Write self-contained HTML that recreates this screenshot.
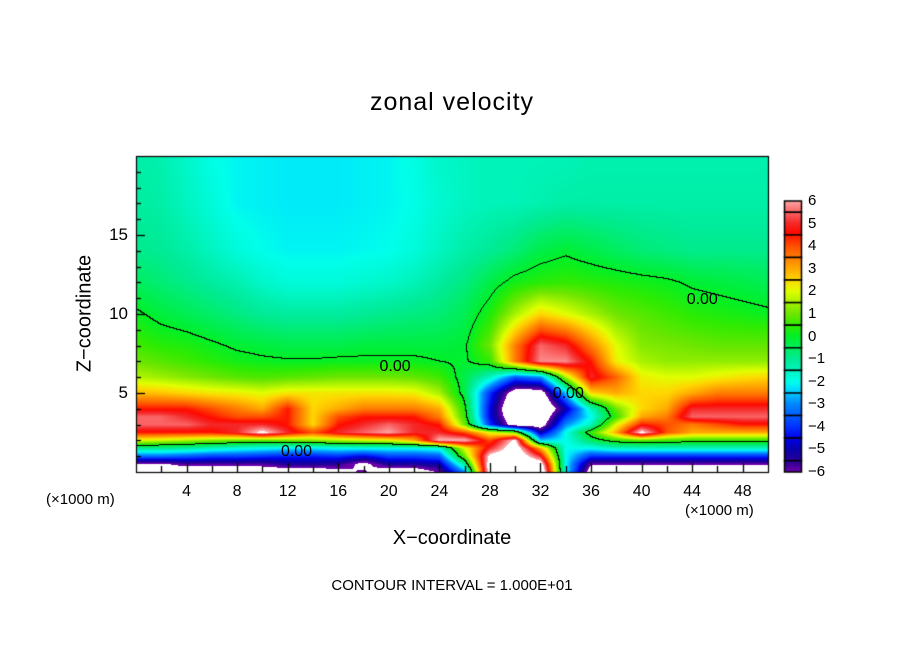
<!DOCTYPE html>
<html><head><meta charset="utf-8"><style>
body{margin:0;background:#fff;width:904px;height:654px;overflow:hidden;font-family:"Liberation Sans",sans-serif}
.t{position:absolute;color:#000;white-space:nowrap}
</style></head><body>
<div style="position:relative;width:904px;height:654px">
<div class="t" style="left:0;width:904px;text-align:center;top:88px;font-size:25px;letter-spacing:1px">zonal velocity</div>
<canvas id="cv" width="904" height="654" style="position:absolute;left:0;top:0"></canvas>
<div class="t" style="left:-5px;top:302px;width:180px;text-align:center;font-size:20px;transform:rotate(-90deg)">Z−coordinate</div>
<div class="t" style="left:0;width:904px;text-align:center;top:527px;font-size:20px">X−coordinate</div>
<div class="t" style="left:46px;top:491px;font-size:15px">(×1000 m)</div>
<div class="t" style="left:685px;top:502px;font-size:15px">(×1000 m)</div>
<div class="t" style="left:0;width:904px;text-align:center;top:577px;font-size:15px">CONTOUR INTERVAL = 1.000E+01</div>
<div id="lab"></div>
</div>
<script>
const xs=[0,2,4,6,8,10,12,14,16,18,20,22,24,26,28,30,32,34,36,38,40,42,44,46,48,50];
const zs=[0,0.5,1,1.5,2,2.5,3,3.5,4,5,6,7,8,10,12,14,17,20];
const u_z0=[-7,-7,-7,-7,-7,-7,-7,-7,-6.5,-6,-7,-7,-6,-3,7,8,8,-2,-7,-7,-7,-7,-7,-7,-7,-7];
const u_z05=[-6.3,-6.3,-5.8,-5.8,-5.8,-5.8,-5.3,-5.3,-5.5,-6.5,-5.3,-5.3,-5,-1,7,8,7,-2,-6,-6,-6,-6,-6,-6,-6,-6];
const u_z1=[-3.3,-3.3,-3.5,-3.8,-3.8,-4,-4.2,-4.2,-4,-4.5,-3.8,-3.8,-3.5,1,6.5,7.5,5,-2,-4,-4,-4,-4,-4,-4,-4,-4];
const u_z15=[-1,-1,-1.2,-1.5,-1.8,-2,-2.2,-2.2,-2,-2,-2,-2,-1.8,2,5,7,3,-2,-2,-1.5,-1.5,-1.5,-1.5,-1.5,-1.5,-1.5];
const u_z2=[2,1.8,1.5,1.2,1,0.8,1,1.2,1.5,1.8,2,3,6.2,6.2,4,6.5,-2.5,-2,-0.5,0.5,0.8,0.6,0.5,0.5,0.5,0.5];
const u_z25=[4.5,4.5,4.5,4.5,5,6.5,5,4,5,5.5,6,5,5,4,2,1,-5,-2,0.5,3,6.5,4,3,3,3,3];
const u_z3=[5.5,5.5,5.5,5,5,5,4.5,2.5,4.5,5,5.5,5,4.5,1,-4,-7,-7,-3,-1.5,2,4.5,4,3.5,4,4.5,4.5];
const u_z35=[5.5,5.5,5,4.5,4,4,4.5,2.5,4,4.5,4.5,4.5,3.5,0.5,-4.5,-7.5,-7.5,-4,-2,0.5,3,3.5,5.5,5.5,5.5,5.5];
const u_z4=[4.5,4.5,4.5,4,3.5,3,4.5,2.5,3,3.5,3.5,3.5,3,0.3,-4.5,-8,-8,-5,-1.5,1,2.5,3,5,5,5,5];
const u_z5=[2.8,2.7,2.5,2.3,2.2,2,2.3,2.3,2.3,2.3,2.3,2.2,1.5,-0.3,-4,-7,-7,-2.5,2.5,3,2.5,2.5,3,3.5,3.5,3.5];
const u_z6=[1.6,1.4,1.2,1.0,0.8,0.7,0.8,0.9,1.0,1.0,1.0,0.9,0.6,-0.3,-1.5,-3.5,-3,1.5,5,3.8,2.2,2,2,2.2,2.4,2.5];
const u_z7=[1.0,0.8,0.6,0.4,0.2,0.1,0.05,0.05,0.1,0.1,0.1,0.1,0,-0.1,0.5,3.5,5.8,5.8,4.5,2.2,1.5,1.3,1.3,1.3,1.3,1.3];
const u_z8=[0.6,0.4,0.3,0.1,-0.1,-0.2,-0.3,-0.3,-0.3,-0.2,-0.2,-0.2,-0.2,-0.1,1,3.5,5.5,5,3.5,2,1.2,1.1,1,0.9,0.9,0.9];
const u_z10=[0.1,-0.2,-0.4,-0.6,-0.8,-1.0,-1.1,-1.1,-1.1,-1.0,-0.9,-0.8,-0.7,-0.4,0.3,1.5,2.5,2,1.5,1.0,0.8,0.6,0.4,0.3,0.2,0.1];
const u_z12=[-0.5,-0.7,-0.9,-1.1,-1.3,-1.6,-1.8,-1.8,-1.8,-1.7,-1.6,-1.4,-1.1,-0.8,-0.3,0.2,0.4,0.5,0.4,0.3,0.2,0.1,-0.1,-0.2,-0.3,-0.4];
const u_z14=[-0.9,-1.0,-1.2,-1.5,-1.8,-2.0,-2.1,-2.1,-2.1,-2.05,-2.0,-1.8,-1.5,-1.2,-1.0,-0.7,-0.3,-0.1,-0.3,-0.5,-0.7,-0.8,-0.9,-0.9,-0.9,-0.9];
const u_z17=[-1.1,-1.2,-1.5,-1.8,-2.1,-2.15,-2.2,-2.2,-2.2,-2.15,-2.1,-1.95,-1.7,-1.5,-1.4,-1.4,-1.3,-1.2,-1.2,-1.2,-1.2,-1.2,-1.2,-1.2,-1.2,-1.2];
const u_z20=[-1.2,-1.3,-1.6,-1.95,-2.1,-2.15,-2.2,-2.2,-2.2,-2.15,-2.1,-1.9,-1.6,-1.5,-1.4,-1.4,-1.4,-1.4,-1.3,-1.3,-1.3,-1.3,-1.3,-1.3,-1.3,-1.3];
const rows=[u_z0,u_z05,u_z1,u_z15,u_z2,u_z25,u_z3,u_z35,u_z4,u_z5,u_z6,u_z7,u_z8,u_z10,u_z12,u_z14,u_z17,u_z20];
const xTicks=[4,8,12,16,20,24,28,32,36,40,44,48];
const zTicks=[5,10,15];
const cbLevels=[6,5,4,3,2,1,0,-1,-2,-3,-4,-5,-6];
const contourLabels=[[12.7,1.2],[20.5,6.6],[34.2,4.9],[44.8,10.8]];

const L=136,R=768,T=156,B=472;
const sx=x=>L+(x/50)*(R-L), sz=z=>B-(z/20)*(B-T);
const stops=[[-6,110,0,170],[-5.5,40,0,150],[-5,10,0,170],[-4.5,0,0,235],[-4,0,50,255],[-3,0,135,255],[-2.3,0,225,255],[-2,0,255,235],[-1,0,235,150],[0,0,240,40],[0.5,50,235,0],[1,110,230,0],[2,225,255,0],[2.5,255,215,0],[3,255,170,0],[4,255,80,0],[4.6,255,10,0],[5,245,40,40],[5.5,250,100,100],[6,255,165,165]];
function col(v){if(v>6.15||v<-6.15)return[255,255,255];if(v<=-6)return stops[0].slice(1);if(v>=6)return stops[stops.length-1].slice(1);
 for(let i=0;i<stops.length-1;i++){const a=stops[i],b=stops[i+1];if(v>=a[0]&&v<=b[0]){const t=(v-a[0])/(b[0]-a[0]);return[a[1]+t*(b[1]-a[1]),a[2]+t*(b[2]-a[2]),a[3]+t*(b[3]-a[3])];}}return[255,255,255];}
function idx(arr,v){for(let i=0;i<arr.length-1;i++)if(v<=arr[i+1])return i;return arr.length-2;}
function field(x,z){const i=idx(xs,x),j=idx(zs,z);const tx=(x-xs[i])/(xs[i+1]-xs[i]),tz=(z-zs[j])/(zs[j+1]-zs[j]);
 const a=rows[j][i],b=rows[j][i+1],c=rows[j+1][i],d=rows[j+1][i+1];return (a*(1-tx)+b*tx)*(1-tz)+(c*(1-tx)+d*tx)*tz;}
const cv=document.getElementById('cv'),ctx=cv.getContext('2d');
const W=R-L,H=B-T;const img=ctx.createImageData(W,H);const F=[];
for(let py=0;py<H;py++){F[py]=[];for(let px=0;px<W;px++){const x=(px+0.5)/W*50,z=(H-py-0.5)/H*20;F[py][px]=field(x,z);}}
for(let py=0;py<H;py++)for(let px=0;px<W;px++){let c=col(F[py][px]);const v=F[py][px];
 const s=Math.sign(v);let line=false;
 if(px+1<W&&Math.sign(F[py][px+1])!==s)line=true;if(py+1<H&&Math.sign(F[py+1][px])!==s)line=true;
 if(line)c=[0,0,0];const k=(py*W+px)*4;img.data[k]=c[0];img.data[k+1]=c[1];img.data[k+2]=c[2];img.data[k+3]=255;}
ctx.putImageData(img,L,T);
ctx.strokeStyle='#000';ctx.lineWidth=1.2;ctx.strokeRect(L+0.5,T+0.5,W,H);
ctx.lineWidth=1.3;
for(let x=2;x<50;x+=2){const p=Math.round(sx(x))+0.5;const len=x%4===0?9:6;ctx.beginPath();ctx.moveTo(p,B);ctx.lineTo(p,B-len);ctx.stroke();}
for(let z=1;z<20;z++){const p=Math.round(sz(z))+0.5;const len=z%5===0?9:5;ctx.beginPath();ctx.moveTo(L,p);ctx.lineTo(L+len,p);ctx.stroke();}
// colorbar
const cx=784,cw=17,cT=201,cB=472,per=(cB-cT)/12,cy=v=>cT+(6-v)*per;
const bounds=[6,5.5,4.5,3.5,2.5,1.5,0.5,-0.5,-1.5,-2.5,-3.5,-4.5,-5.5,-6];
for(let i=0;i<bounds.length-1;i++){const y0=cy(bounds[i]),y1=cy(bounds[i+1]);
 for(let y=Math.floor(y0);y<Math.ceil(y1);y++){const v=6-(y+0.5-cT)/per;const c=col(Math.max(-6,Math.min(6,v)));ctx.fillStyle=`rgb(${c[0]|0},${c[1]|0},${c[2]|0})`;ctx.fillRect(cx,y,cw,1);}
 ctx.strokeStyle='#000';ctx.lineWidth=1.5;ctx.strokeRect(cx+0.5,y0,cw,y1-y0);}
const lab=document.getElementById('lab');
function txt(s,x,y,fs,name,extra){const d=document.createElement('div');d.className='t';d.textContent=s;d.style.left=x+'px';d.style.top=y+'px';d.style.fontSize=fs+'px';if(extra)d.style.cssText+=extra;


lab.appendChild(d);}
xTicks.forEach(v=>txt(String(v),sx(v)-20,483,16,'x-tick-label',';width:40px;text-align:center'));
zTicks.forEach(v=>txt(String(v),L-42,sz(v)-10,17,'z-tick-label',';width:34px;text-align:right'));
cbLevels.forEach(v=>txt(v<0?'−'+(-v):String(v),808,cy(v)-9,15,'colorbar-label'));
contourLabels.forEach(p=>txt('0.00',sx(p[0])-20,sz(p[1])-10,16,'contour-label',';width:40px;text-align:center'));
</script>
</body></html>
